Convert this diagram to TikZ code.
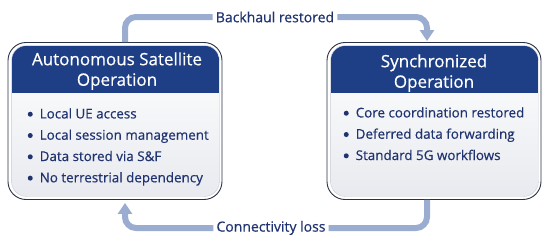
\documentclass[tikz,border=0pt]{standalone}
\usepackage{fontspec}
\setmainfont{Open Sans}[FakeBold=0.5]
\usetikzlibrary{calc,arrows.meta}
\definecolor{hdr}{HTML}{1E3F86}
\definecolor{navy}{HTML}{1F3370}
\definecolor{arrowc}{HTML}{9AADD1}
\definecolor{edge}{HTML}{2B3245}
\definecolor{cardbot}{HTML}{E8EAEF}
\definecolor{cardedge}{HTML}{C9CDD6}
\tikzset{
  card/.style={minimum width=214pt,minimum height=157pt,draw=edge,line width=0.9pt,rounded corners=18pt,fill=white,inner sep=0pt},
  hdrtext/.style={text=white,font=\fontsize{17}{20.5}\selectfont,align=center},
  bultext/.style={text=navy,font=\fontsize{13.4}{21.3}\selectfont,align=left,anchor=north west,inner sep=0pt},
  lbl/.style={text=navy,font=\fontsize{14}{16}\selectfont,inner sep=0pt},
  conn/.style={draw=arrowc,line width=6pt,rounded corners=11pt},
  connarrow/.style={conn,-{Triangle[length=11pt,width=14pt]}}
}
\newcommand{\bul}{\makebox[12pt][l]{\tikz[baseline=-4.2pt]\fill[navy] (0,0) circle (2.5pt);}}
\begin{document}
\begin{tikzpicture}[x=1pt,y=-1pt]
\useasboundingbox (0,0) rectangle (550,241);
% cards
\node[card] (L) at (115,121) {};
\node[card] (R) at (434,121) {};
\foreach \n in {L,R}{
  \begin{scope}
    \clip[rounded corners=15pt] ($(\n.north west)+(4,3.5)$) rectangle ($(\n.south east)+(-3,-3.5)$);
    \shade[top color=white,bottom color=cardbot] ($(\n.north west)+(4,3.5)$) rectangle ($(\n.south east)+(-3,-3.5)$);
    \fill[hdr] ($(\n.north west)+(4,3.5)$) rectangle ($(\n.north east)+(-3,51)$);
  \end{scope}
  \draw[cardedge,line width=0.4pt,rounded corners=15pt] ($(\n.north west)+(4,3.5)$) rectangle ($(\n.south east)+(-3,-3.5)$);
}
\node[hdrtext] (Lh) at ($(L.north)+(2,29)$) {Autonomous Satellite\\Operation};
\node[hdrtext] (Rh) at ($(R.north)+(0,31)$) {Synchronized\\Operation};
\node[bultext] (Lb) at ($(L.north west)+(20,66)$) {\bul Local UE access\\\bul Local session management\\\bul Data stored via S\&F\\\bul No terrestrial dependency};
\node[bultext] (Rb) at ($(R.north west)+(17,65)$) {\bul Core coordination restored\\\bul Deferred data forwarding\\\bul Standard 5G workflows};
% labels
\node[lbl] (B) at (275,17) {Backhaul restored};
\node[lbl] (C) at (271,228) {Connectivity loss};
\coordinate (tl) at (125,17);
\coordinate (tr) at (427,17);
\coordinate (bl) at (125,229);
\coordinate (br) at (427,229);
\draw[conn] (L.north -| tl) |- ($(B.west)+(-3,0)$);
\draw[connarrow] ($(B.east)+(3,0)$) -| ($(R.north -| tr)+(0,-1)$);
\draw[conn] (R.south -| br) |- ($(C.east)+(3,0)$);
\draw[connarrow] ($(C.west)+(-3,0)$) -| ($(L.south -| bl)+(0,3)$);
\end{tikzpicture}
\end{document}
